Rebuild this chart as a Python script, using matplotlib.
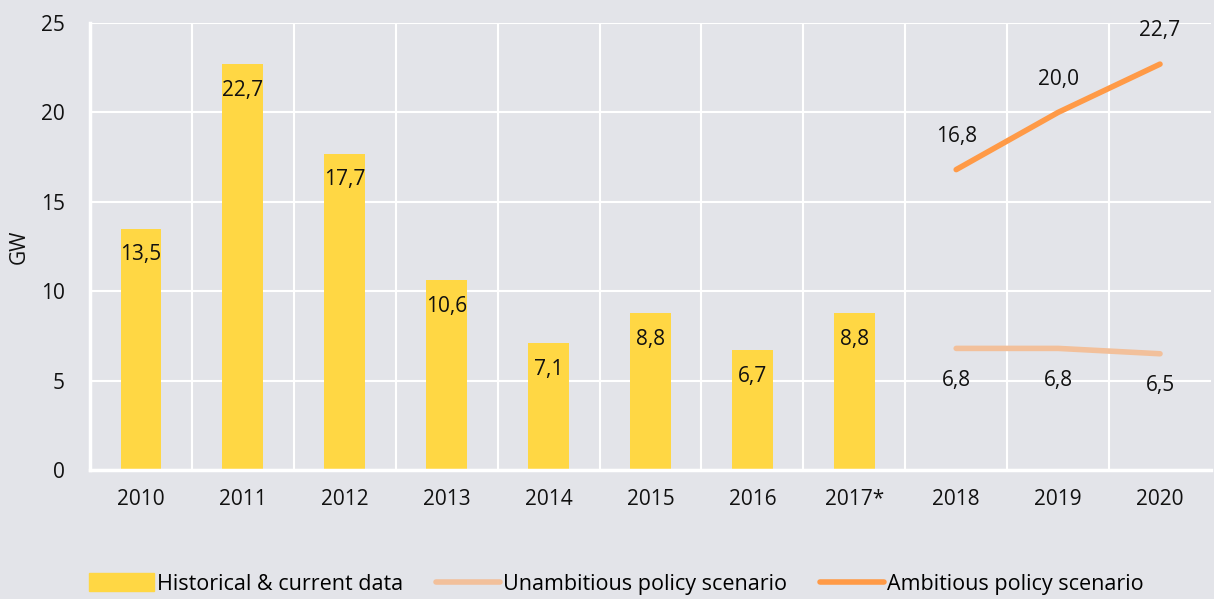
import matplotlib.pyplot as plt
from matplotlib.patches import Patch
from matplotlib.lines import Line2D

years = ["2010", "2011", "2012", "2013", "2014", "2015", "2016", "2017*", "2018", "2019", "2020"]
hist = [13.5, 22.7, 17.7, 10.6, 7.1, 8.8, 6.7, 8.8]
scen_years = ["2018", "2019", "2020"]
unambitious = [6.8, 6.8, 6.5]
ambitious = [16.8, 20.0, 22.7]

bg = "#e3e4e9"
bar_col = "#ffd744"
unamb_col = "#f2c09b"
amb_col = "#ff9a47"

plt.rcParams['font.family'] = ['Open Sans', 'DejaVu Sans']

fig = plt.figure(figsize=(12.14, 5.99), dpi=100, facecolor=bg)
ax = fig.add_axes([0.0741, 0.2154, 0.9234, 0.7462], facecolor=bg)

xpos = {y: i for i, y in enumerate(years)}
hx = [xpos[y] for y in years[:len(hist)]]
sx = [xpos[y] for y in scen_years]

ax.bar(hx, hist, width=0.4, color=bar_col, zorder=2)
ax.plot(sx, unambitious, color=unamb_col, lw=4, solid_capstyle='round', zorder=3)
ax.plot(sx, ambitious, color=amb_col, lw=4, solid_capstyle='round', zorder=3)

fs = 15
fmt = lambda v: ("%.1f" % v).replace(".", ",")
for x, v in zip(hx, hist):
    ax.annotate(fmt(v), (x, v), xytext=(0, -19), textcoords="offset points",
                ha="center", va="center", fontsize=fs, color="#111111", zorder=4)
for x, v in zip(sx, ambitious):
    ax.annotate(fmt(v), (x, v), xytext=(0, 24), textcoords="offset points",
                ha="center", va="center", fontsize=fs, color="#111111")
for x, v in zip(sx, unambitious):
    ax.annotate(fmt(v), (x, v), xytext=(0, -23), textcoords="offset points",
                ha="center", va="center", fontsize=fs, color="#111111")

ax.set_xlim(-0.5, len(years) - 0.5)
ax.set_ylim(0, 25)
ax.set_yticks([0, 5, 10, 15, 20, 25])
ax.set_xticks(range(len(years)))
ax.set_xticklabels(years)
ax.set_xticks([i + 0.5 for i in range(len(years) - 1)], minor=True)
ax.tick_params(axis="both", length=0, labelsize=fs, colors="#111111")
ax.tick_params(axis="x", which="major", pad=14)
ax.tick_params(axis="y", pad=18)
ax.tick_params(which="minor", length=0)
ax.grid(axis="y", color="white", lw=1.5, zorder=0)
ax.grid(axis="x", which="minor", color="white", lw=1.5, zorder=0)
ax.set_axisbelow(True)
for s in ["top", "right"]:
    ax.spines[s].set_visible(False)
for s in ["left", "bottom"]:
    ax.spines[s].set_color("white")
    ax.spines[s].set_linewidth(2.5)
ax.set_ylabel("GW", fontsize=fs, color="#111111")
ax.yaxis.set_label_coords(-0.054, 0.5)

handles = [Patch(color=bar_col),
           Line2D([], [], color=unamb_col, lw=4, solid_capstyle='round'),
           Line2D([], [], color=amb_col, lw=4, solid_capstyle='round')]
labels = ["Historical & current data", "Unambitious policy scenario", "Ambitious policy scenario"]
fig.legend(handles, labels, loc="center", bbox_to_anchor=(0.508, 0.025), ncol=3,
           frameon=False, fontsize=15.5, handlelength=3.0, handleheight=0.9,
           handletextpad=0.15, columnspacing=1.5)

fig.savefig("out.png", dpi=100, facecolor=bg)
